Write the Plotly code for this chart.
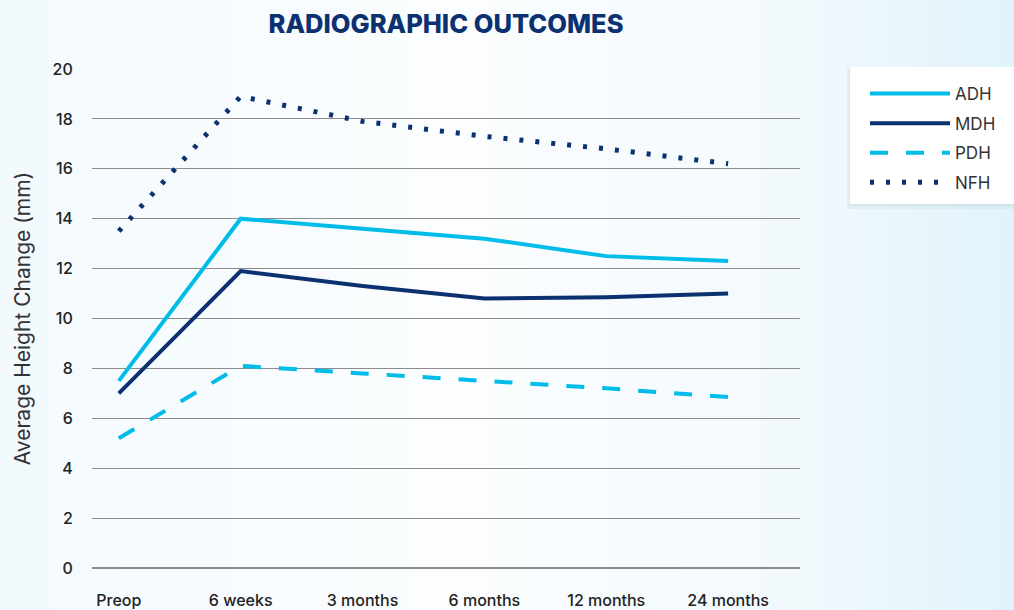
import base64, struct, zlib
import plotly.graph_objects as go

categories = ["Preop", "6 weeks", "3 months", "6 months", "12 months", "24 months"]
adh = [7.5, 14.0, 13.6, 13.2, 12.5, 12.3]
mdh = [7.0, 11.9, 11.3, 10.8, 10.85, 11.0]
pdh = [5.2, 8.1, 7.8, 7.5, 7.2, 6.85]
nfh = [13.5, 18.9, 17.9, 17.3, 16.8, 16.2]
y_ticks = [0, 2, 4, 6, 8, 10, 12, 14, 16, 18, 20]

CYAN = "#00bce8"
NAVY = "#0b3170"

W, H = 1014, 610
L, R, T, B = 92, 214, 69, 42
PW, PH = W - L - R, H - T - B


def px_x(x):
    return (x - L) / PW


def px_y(y):
    return (H - B - y) / PH


def gradient_png(w=256, h=4):
    # horizontal background gradient: pale blue -> white -> light blue
    stops = [(0.0, (243, 250, 254)), (0.45, (252, 254, 255)), (0.75, (244, 250, 253)), (1.0, (226, 244, 251))]
    row = bytearray()
    for i in range(w):
        t = i / (w - 1)
        for k in range(len(stops) - 1):
            if stops[k][0] <= t <= stops[k + 1][0]:
                a, ca = stops[k]
                b, cb = stops[k + 1]
                f = (t - a) / (b - a)
                c = [int(ca[j] + (cb[j] - ca[j]) * f) for j in range(3)]
                break
        row += bytes(c)
    raw = b"".join(b"\x00" + bytes(row) for _ in range(h))

    def chunk(tag, data):
        return struct.pack(">I", len(data)) + tag + data + struct.pack(">I", zlib.crc32(tag + data) & 0xFFFFFFFF)

    png = b"\x89PNG\r\n\x1a\n" + chunk(b"IHDR", struct.pack(">IIBBBBB", w, h, 8, 2, 0, 0, 0)) \
        + chunk(b"IDAT", zlib.compress(raw)) + chunk(b"IEND", b"")
    return "data:image/png;base64," + base64.b64encode(png).decode()


fig = go.Figure()
fig.add_trace(go.Scatter(x=categories, y=adh, name="ADH", mode="lines", legendgroup="a",
                         line=dict(color=CYAN, width=4)))
fig.add_trace(go.Scatter(x=categories, y=mdh, name="MDH", mode="lines", legendgroup="b",
                         line=dict(color=NAVY, width=4)))
fig.add_trace(go.Scatter(x=categories, y=pdh, name="PDH", mode="lines", legendgroup="c",
                         line=dict(color=CYAN, width=4, dash="18px,18px")))
fig.add_trace(go.Scatter(x=categories, y=nfh, name="NFH", mode="lines", legendgroup="d",
                         line=dict(color=NAVY, width=5, dash="4px,12px")))

fig.update_layout(
    width=W, height=H,
    margin=dict(l=L, r=R, t=T, b=B, autoexpand=False),
    paper_bgcolor="#f6fbfe",
    plot_bgcolor="rgba(0,0,0,0)",
    font=dict(family="Inter, Lato, sans-serif", color="#222222"),
    title=dict(text="RADIOGRAPHIC OUTCOMES", x=446 / W, xanchor="center",
               y=1 - 24 / H, yanchor="middle", automargin=False,
               font=dict(family="Inter, Lato, sans-serif", size=25.5, color=NAVY, weight=800)),
    showlegend=True,
    legend=dict(x=px_x(865), xanchor="left", y=px_y(76), yanchor="top",
                bgcolor="rgba(0,0,0,0)", borderwidth=0,
                font=dict(size=17, color="#333333", family="Inter, Lato, sans-serif"),
                itemwidth=80, traceorder="grouped", tracegroupgap=4.5),
    images=[dict(source=gradient_png(), xref="paper", yref="paper",
                 x=-L / PW, y=1 + T / PH, sizex=W / PW, sizey=H / PH,
                 sizing="stretch", layer="below", xanchor="left", yanchor="top")],
    shapes=[
        dict(type="rect", xref="paper", yref="paper",
             x0=px_x(847), x1=px_x(1018), y0=px_y(209), y1=px_y(68),
             fillcolor="rgba(140,165,185,0.10)", line=dict(width=0), layer="below"),
        dict(type="rect", xref="paper", yref="paper",
             x0=px_x(849), x1=px_x(1016), y0=px_y(206), y1=px_y(68),
             fillcolor="rgba(140,165,185,0.12)", line=dict(width=0), layer="below"),
        dict(type="rect", xref="paper", yref="paper",
             x0=px_x(850), x1=px_x(1016), y0=px_y(204), y1=px_y(67),
             fillcolor="white", line=dict(width=0), layer="below"),
    ],
)

fig.update_xaxes(
    type="category", range=[-0.22, 5.59], showgrid=False, zeroline=False, automargin=False,
    showline=False, ticks="outside", ticklen=18, tickcolor="rgba(0,0,0,0)",
    tickfont=dict(size=16, color="#222222", weight=500),
)
fig.update_yaxes(
    range=[0, 20], tickvals=y_ticks, showgrid=True, gridcolor="#8c8c8c", gridwidth=1.2,
    zeroline=True, zerolinecolor="#8c8c8c", zerolinewidth=1.5, showline=False, automargin=False,
    ticks="outside", ticklen=15, tickcolor="rgba(0,0,0,0)",
    tickfont=dict(size=16, color="#222222", weight=500),
    title=dict(text="Average Height Change (mm)", standoff=16,
               font=dict(size=21, color="#333333")),
)

fig.write_html(
    "out.html",
    config={"displayModeBar": False},
    post_script="document.documentElement.style.margin='0';document.body.style.margin='0';"
                "document.body.style.overflow='hidden';",
)
